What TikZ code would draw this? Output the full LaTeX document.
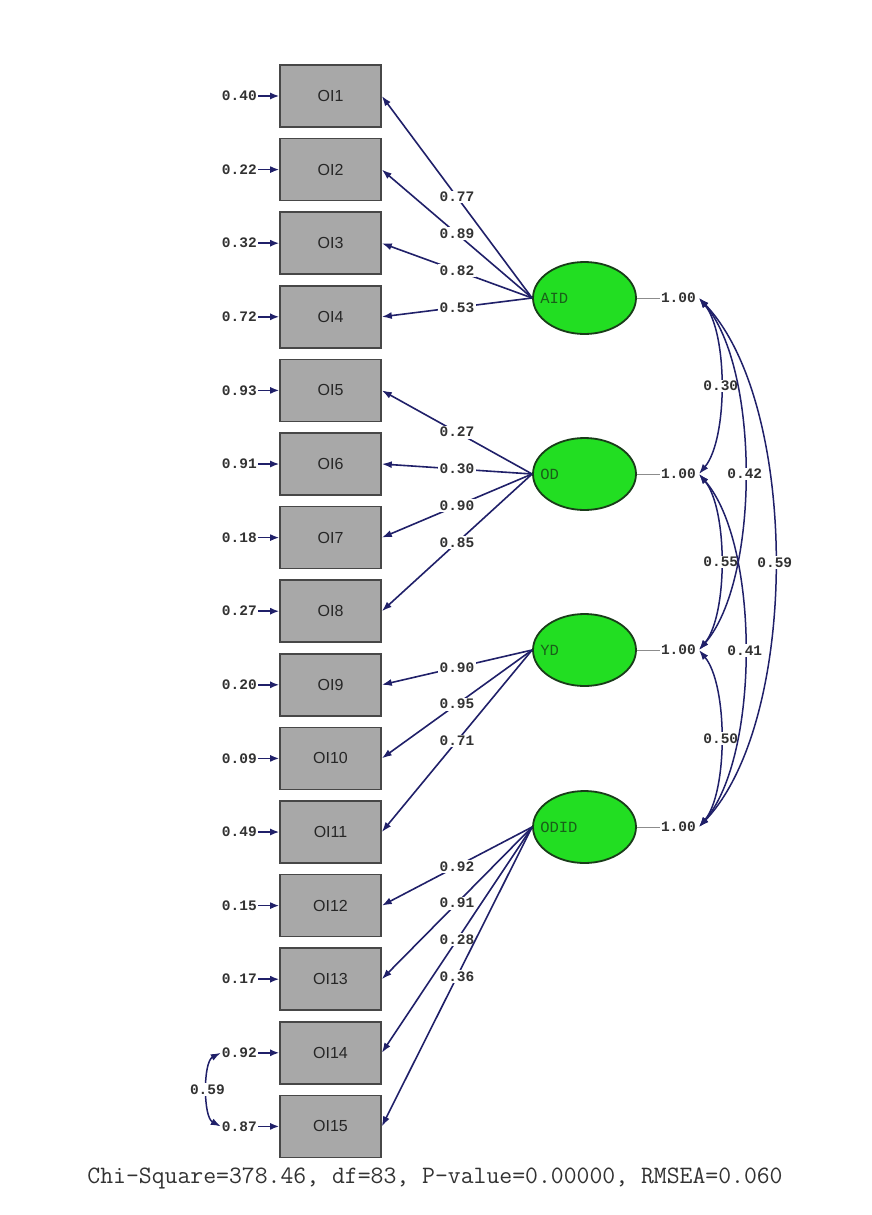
\documentclass[tikz,border=0pt]{standalone}
\usepackage{fontspec}
\setmainfont{Liberation Sans}
\newfontfamily\numfont{Liberation Mono}
\usetikzlibrary{arrows.meta,shapes.geometric}
\definecolor{navy}{RGB}{32,32,105}
\definecolor{boxgray}{RGB}{168,168,168}
\definecolor{latgreen}{RGB}{34,222,34}
\definecolor{txtgray}{RGB}{50,50,50}
\definecolor{darkgreen}{RGB}{25,95,25}
\definecolor{rimgreen}{RGB}{25,60,25}
\begin{document}
\begin{tikzpicture}[x=1pt,y=-1pt,
  obs/.style={draw=black!72, line width=1.6pt, fill=boxgray, minimum width=101pt,
    minimum height=62pt, inner sep=0pt, font=\fontsize{16}{16}\selectfont, text=black!85},
  lat/.style={ellipse, draw=rimgreen, line width=1.8pt, fill=latgreen,
    minimum width=103pt, minimum height=72pt, inner sep=0pt},
  latlab/.style={anchor=west, font=\numfont\fontsize{15.5}{15.5}\selectfont, text=darkgreen, inner sep=0pt},
  numlab/.style={font=\numfont\bfseries\fontsize{14.5}{14.5}\selectfont, text=txtgray, inner sep=1pt},
  onlab/.style={numlab, fill=white, inner sep=1.5pt},
  load/.style={draw=navy, line width=1.6pt, -{Latex[length=10pt,width=7pt]}},
  errarr/.style={draw=navy, line width=1.6pt, -{Latex[length=9pt,width=7pt]}},
  cov/.style={draw=navy, line width=1.5pt, {Latex[length=10pt,width=7pt]}-{Latex[length=10pt,width=7pt]}},
  varline/.style={draw=black!45, line width=0.9pt}
]
\fill[white] (0,0) rectangle (871,1215);
\useasboundingbox (0,0) rectangle (871,1215);

% observed boxes and error terms
\foreach \i/\e in {1/0.40,2/0.22,3/0.32,4/0.72,5/0.93,6/0.91,7/0.18,8/0.27,9/0.20,10/0.09,11/0.49,12/0.15,13/0.17,14/0.92,15/0.87}{
  \node[obs] (o\i) at (330.5,{96+(\i-1)*73.6}) {OI\i};
  \node[numlab, anchor=east] (e\i) at (258,{96+(\i-1)*73.6}) {\e};
  \draw[errarr] (e\i) -- (o\i);
}

% latent variables
\node[lat] (AID) at (584.5,298) {};
\node[lat] (OD) at (584.5,474) {};
\node[lat] (YD) at (584.5,650) {};
\node[lat] (ODID) at (584.5,827) {};
\node[latlab] (lAID) at ([xshift=8pt]AID.west) {AID};
\node[latlab] (lOD) at ([xshift=8pt]OD.west) {OD};
\node[latlab] (lYD) at ([xshift=8pt]YD.west) {YD};
\node[latlab] (lODID) at ([xshift=8pt]ODID.west) {ODID};

% loadings
\foreach \l/\o/\v in {AID/1/0.77,AID/2/0.89,AID/3/0.82,AID/4/0.53,
                      OD/5/0.27,OD/6/0.30,OD/7/0.90,OD/8/0.85,
                      YD/9/0.90,YD/10/0.95,YD/11/0.71,
                      ODID/12/0.92,ODID/13/0.91,ODID/14/0.28,ODID/15/0.36}{
  \draw[load] (\l.west) -- (o\o.east) node[onlab, midway] {\v};
}

% variances
\foreach \l/\y [count=\k] in {AID/298,OD/474,YD/650,ODID/827}{
  \node[numlab, anchor=east] (v\k) at (697,\y) {1.00};
  \coordinate (c\k) at (699,\y);
  \draw[varline] (\l.east) -- (v\k.west);
}

% covariances between latent variables
\draw[cov] (c1) .. controls (728,333) and (728,439) .. (c2) node[onlab, pos=0.5] {0.30};
\draw[cov] (c2) .. controls (728,509) and (728,615) .. (c3) node[onlab, pos=0.5] {0.55};
\draw[cov] (c3) .. controls (728,685) and (728,792) .. (c4) node[onlab, pos=0.5] {0.50};
\draw[cov] (c1) .. controls (760,368) and (760,580) .. (c3) node[onlab, pos=0.5] {0.42};
\draw[cov] (c2) .. controls (760,544) and (760,757) .. (c4) node[onlab, pos=0.5] {0.41};
\draw[cov] (c1) .. controls (800,404) and (800,721) .. (c4) node[onlab, pos=0.5] {0.59};

% error covariance
\draw[cov] (e14.west) .. controls (203,1062) and (203,1117) .. (e15.west) node[onlab, pos=0.5] {0.59};

% fit statistics
\node[font=\ttfamily\fontsize{25}{25}\selectfont, text=txtgray] (fit) at (435,1178)
  {Chi-Square=378.46, df=83, P-value=0.00000, RMSEA=0.060};
\end{tikzpicture}
\end{document}
